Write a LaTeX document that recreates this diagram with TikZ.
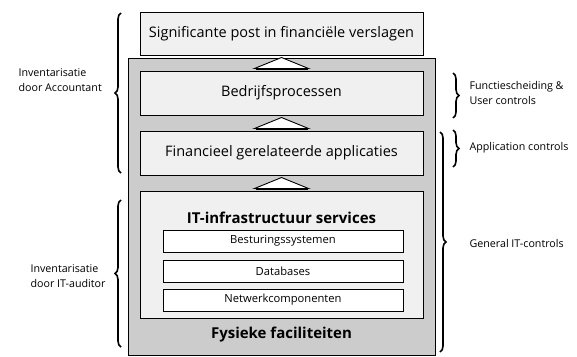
\documentclass[tikz,border=0pt]{standalone}
\usepackage{fontspec}
\setmainfont{Open Sans}
\usetikzlibrary{calc,decorations.pathreplacing}
\definecolor{boxgray}{HTML}{F0F0F0}
\definecolor{midgray}{HTML}{CCCCCC}

\begin{document}
\begin{tikzpicture}[
    x=1pt, y=-1pt,
    box/.style={rectangle, draw, line width=1pt, fill=boxgray, minimum width=283pt, minimum height=44pt, font=\fontsize{14.5}{17}\selectfont},
    outerbox/.style={rectangle, draw, line width=1pt, fill=midgray, minimum width=307pt, minimum height=297pt},
    subbox/.style={rectangle, draw, line width=1pt, fill=white, minimum width=240pt, minimum height=22pt, font=\fontsize{11.2}{13}\selectfont},
    heading/.style={font=\bfseries\fontsize{15}{17}\selectfont},
    tri/.style={draw, line width=0.9pt, fill=white},
    bracket/.style={decorate, decoration={brace, amplitude=6pt}, line width=1.6pt},
    note/.style={anchor=west, align=left, font=\fontsize{10.7}{14.5}\selectfont}
]
\useasboundingbox (0,0) rectangle (577,356);

% lagen
\node[outerbox] (fys) at (281.5,206.5) {};
\node[box, minimum height=43pt] (post) at (281.5,33.5) {Significante post in financiële verslagen};
\node[box] (bedrijf) at (281.5,93) {Bedrijfsprocessen};
\node[box] (fin) at (281.5,153) {Financieel gerelateerde applicaties};
\node[box, minimum height=127pt] (it) at (281.5,254.5) {};
\node[heading] (ittitle) at (281.5,218) {IT-infrastructuur services};
\node[subbox] (os) at (283,241) {Besturingssystemen};
\node[subbox] (db) at (283,271) {Databases};
\node[subbox] (net) at (283,300) {Netwerkcomponenten};
\node[heading] (fystitle) at (281.5,335) {Fysieke faciliteiten};

% driehoeken
\foreach \lo/\up in {bedrijf/post, fin/bedrijf, it/fin} {
    \draw[tri] ($(\lo.north)+(-27,-2)$) -- ($(\up.south)+(0,2)$) -- ($(\lo.north)+(27,-2)$) -- cycle;
    \draw[line width=2pt] ($(\lo.north)+(-26,-2)$) -- ($(\lo.north)+(26,-2)$);
}

% accolades links
\draw[bracket] (121,173) -- (121,13);
\draw[bracket] (121,347) -- (121,200);
\node[note] (acc) at (15,80) {Inventarisatie\\door Accountant};
\node[note] (itaud) at (27,276) {Inventarisatie\\door IT-auditor};

% accolades rechts
\draw[bracket] (453,73) -- (453,118);
\draw[bracket] (453,130) -- (453,167);
\draw[bracket] (440,132) -- (440,352);
\node[note] (func) at (466,93) {Functiescheiding \&\\User controls};
\node[note] (appl) at (466,148) {Application controls};
\node[note] (gen) at (466,243) {General IT-controls};
\end{tikzpicture}
\end{document}
